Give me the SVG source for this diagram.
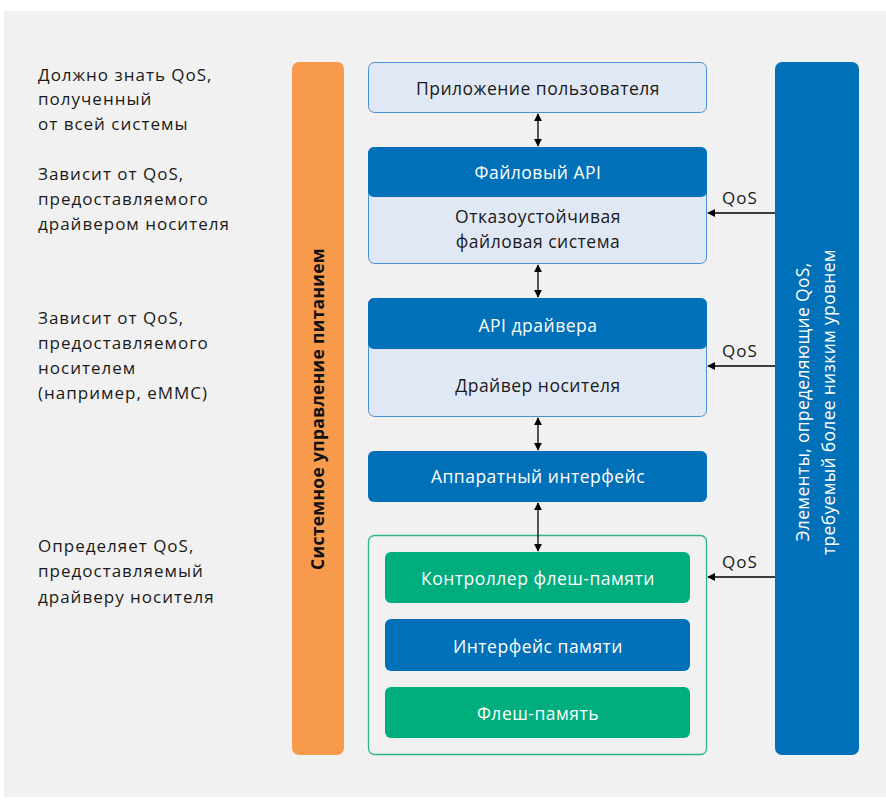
<svg xmlns="http://www.w3.org/2000/svg" width="886" height="800" viewBox="0 0 886 800">
<defs>
<style>
.bg{fill:#f1f1f1}
.lbl{font-family:"Open Sans","Noto Sans",sans-serif;font-size:17px;letter-spacing:1px;fill:#1a1a1a}
.bt{font-family:"Open Sans","Noto Sans",sans-serif;font-size:17.5px;letter-spacing:0.5px;text-anchor:middle}
.w{fill:#ffffff}
.k{fill:#1a1a1a}
.light{fill:#e1e8f5;stroke:#4a90d6;stroke-width:1}
.blue{fill:#0070b9}
.green{fill:#00ad7c}
.con{stroke:#000;stroke-width:1.3;fill:none}
.vt{font-family:"Open Sans","Noto Sans",sans-serif;font-size:17.5px;letter-spacing:0.3px;text-anchor:middle}
</style>
<marker id="ah" viewBox="0 0 10 10" refX="9" refY="5" markerWidth="8" markerHeight="8" markerUnits="userSpaceOnUse" orient="auto-start-reverse">
<path d="M0,0 L10,5 L0,10 z" fill="#000"/>
</marker>
</defs>
<rect x="0" y="0" width="886" height="800" fill="#ffffff"/>
<rect class="bg" x="4" y="11" width="882" height="786"/>

<g id="left-notes" class="lbl">
<text x="38" y="81">Должно знать QoS,</text>
<text x="38" y="105">полученный</text>
<text x="38" y="130">от всей системы</text>
<text x="38" y="180">Зависит от QoS,</text>
<text x="38" y="205">предоставляемого</text>
<text x="38" y="230">драйвером носителя</text>
<text x="38" y="324">Зависит от QoS,</text>
<text x="38" y="349">предоставляемого</text>
<text x="38" y="374">носителем</text>
<text x="38" y="399">(например, eMMC)</text>
<text x="38" y="552">Определяет QoS,</text>
<text x="38" y="577">предоставляемый</text>
<text x="38" y="603">драйверу носителя</text>
</g>

<g id="power-bar">
<rect x="292" y="62" width="52" height="693" rx="7" fill="#f79a4b"/>
<text class="vt" transform="translate(324,409) rotate(-90)" font-weight="bold" fill="#111">Системное управление питанием</text>
</g>

<g id="qos-bar">
<rect x="775" y="62" width="84" height="693" rx="7" fill="#0070b9"/>
<text class="vt" transform="translate(809,402) rotate(-90)" fill="#fff">Элементы, определяющие QoS,</text>
<text class="vt" transform="translate(835,402) rotate(-90)" fill="#fff">требуемый более низким уровнем</text>
</g>

<g id="user-app">
<rect class="light" x="368.5" y="62.5" width="338" height="50" rx="6"/>
<text class="bt k" x="538" y="95">Приложение пользователя</text>
</g>

<g id="file-system">
<rect class="light" x="368.5" y="147.5" width="338" height="116" rx="6"/>
<path class="blue" d="M368,153 a6,6 0 0 1 6,-6 h327 a6,6 0 0 1 6,6 v38 a6,6 0 0 1 -6,6 h-327 a6,6 0 0 1 -6,-6 z"/>
<text class="bt w" x="538" y="179">Файловый API</text>
<text class="bt k" x="538" y="223">Отказоустойчивая</text>
<text class="bt k" x="538" y="248">файловая система</text>
</g>

<g id="media-driver">
<rect class="light" x="368.5" y="298.5" width="338" height="118" rx="6"/>
<path class="blue" d="M368,304 a6,6 0 0 1 6,-6 h327 a6,6 0 0 1 6,6 v39 a6,6 0 0 1 -6,6 h-327 a6,6 0 0 1 -6,-6 z"/>
<text class="bt w" x="538" y="332">API драйвера</text>
<text class="bt k" x="538" y="392">Драйвер носителя</text>
</g>

<g id="hw-interface">
<rect class="blue" x="368" y="451" width="339" height="51" rx="6"/>
<text class="bt w" x="538" y="483">Аппаратный интерфейс</text>
</g>

<g id="flash-device">
<rect x="368.5" y="535.5" width="338" height="219" rx="6" fill="none" stroke="#2db784" stroke-width="1.3"/>
</g>
<g id="flash-controller">
<rect class="green" x="385" y="552" width="305" height="51" rx="6"/>
<text class="bt w" x="538" y="585">Контроллер флеш-памяти</text>
</g>
<g id="memory-interface">
<rect class="blue" x="385" y="619" width="305" height="52" rx="6"/>
<text class="bt w" x="538" y="653">Интерфейс памяти</text>
</g>
<g id="flash-memory">
<rect class="green" x="385" y="687" width="305" height="51" rx="6"/>
<text class="bt w" x="538" y="720">Флеш-память</text>
</g>

<g id="connectors">
<line class="con" x1="538" y1="114" x2="538" y2="146" marker-start="url(#ah)" marker-end="url(#ah)"/>
<line class="con" x1="538" y1="265" x2="538" y2="297" marker-start="url(#ah)" marker-end="url(#ah)"/>
<line class="con" x1="538" y1="418" x2="538" y2="450" marker-start="url(#ah)" marker-end="url(#ah)"/>
<line class="con" x1="538" y1="503" x2="538" y2="551" marker-start="url(#ah)" marker-end="url(#ah)"/>
<line class="con" x1="775" y1="213" x2="708" y2="213" marker-end="url(#ah)"/>
<line class="con" x1="775" y1="366" x2="708" y2="366" marker-end="url(#ah)"/>
<line class="con" x1="775" y1="577" x2="708" y2="577" marker-end="url(#ah)"/>
<text class="lbl" x="740" y="204" text-anchor="middle">QoS</text>
<text class="lbl" x="740" y="357" text-anchor="middle">QoS</text>
<text class="lbl" x="740" y="568" text-anchor="middle">QoS</text>
</g>
</svg>
